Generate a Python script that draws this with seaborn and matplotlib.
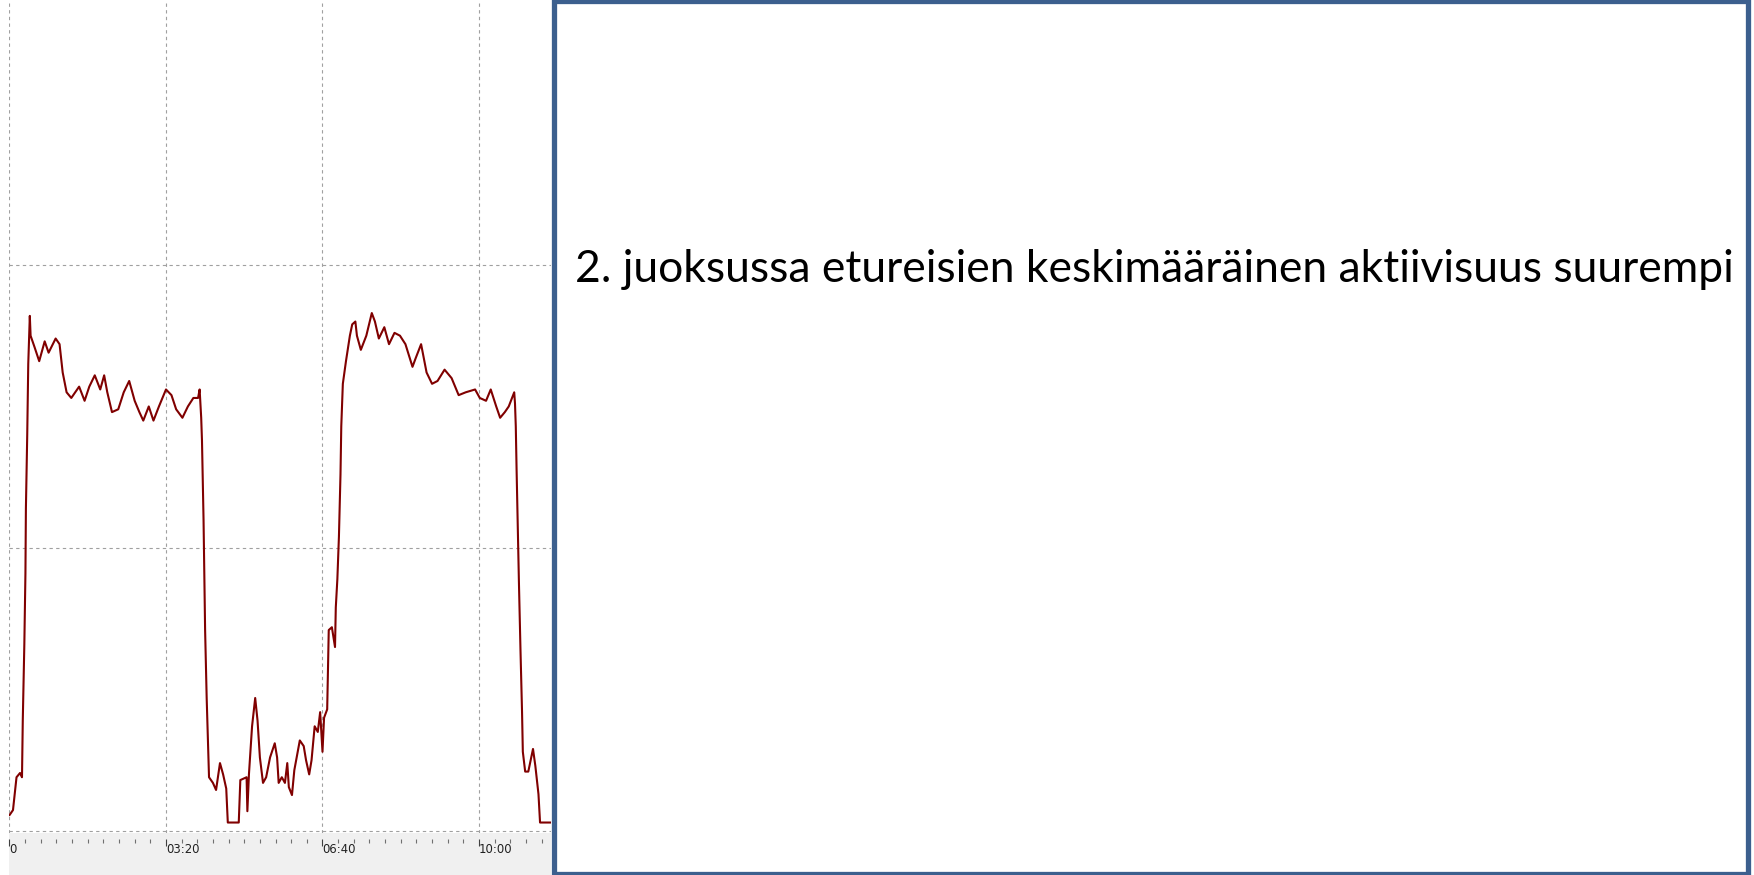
import numpy as np
import pandas as pd
import matplotlib
matplotlib.use("Agg")
import matplotlib.pyplot as plt
from matplotlib.patches import Rectangle
from matplotlib.ticker import MultipleLocator
import seaborn as sns

# Data: time in seconds, activity in arbitrary units
time_s = [0, 4.5, 9, 13.5, 16, 17, 19, 20.4, 21, 22.7, 24, 26, 27, 32, 38, 45, 50, 59, 64,
          68, 73, 79, 89, 96, 102, 109, 116, 121, 125, 131, 139, 146, 153, 160, 166, 171,
          178, 184, 191, 200, 207, 213, 221, 228, 235, 241, 243, 245, 246, 248, 249, 250,
          252, 254, 255, 260, 264, 269, 273, 277, 279, 285, 293, 295, 303, 304, 306, 310,
          314, 317, 320, 324, 328, 333, 339, 342, 344, 348, 352, 355, 357, 361, 364, 371,
          376, 379, 383, 386, 390, 394, 397, 400, 402, 406, 408, 412, 416, 417, 419, 421,
          423, 424, 426, 430, 435, 438, 442, 444, 449, 456, 463, 467, 472, 479, 485, 492,
          499, 506, 515, 519, 526, 533, 540, 547, 556, 565, 574, 583, 595, 601, 609, 615,
          622, 627, 633, 638, 645, 646, 647, 648, 651, 653, 655, 656, 659, 663, 669, 672,
          676, 678, 692]
activity = [5.6, 7.4, 19, 20.5, 19, 39, 66, 91, 114, 140, 165, 182, 175, 171, 166, 173, 169,
            174, 172, 162, 155, 153, 157, 152, 157, 161, 156, 161, 155, 148, 149, 155, 159,
            152, 148, 145, 150, 145, 150, 156, 154, 149, 146, 150, 153, 153, 156, 146, 138,
            110, 91, 71, 47, 29, 19, 17, 14.5, 24, 20, 15, 3, 3, 3, 18, 19, 7, 20, 37, 47,
            39, 26, 17, 19, 26, 31, 26, 17, 19, 17, 24, 15.5, 12.7, 21.5, 32, 30, 25, 20,
            25, 37, 35, 42, 28, 40, 43, 71, 72, 65, 79, 89, 104, 126, 143, 158, 166, 175,
            179, 180, 175, 170, 175, 183, 180, 174, 178, 172, 176, 175, 172, 164, 167, 172,
            162, 158, 159, 163, 160, 154, 155, 156, 153, 152, 156, 150, 146, 148, 150, 155,
            151, 143, 128, 88, 64, 42, 28, 21, 21, 29, 23, 13, 3, 3]
major_ticks = [0, 200, 400, 600]
major_labels = ["0", "03:20", "06:40", "10:00"]
note = "2. juoksussa etureisien keskimääräinen aktiivisuus suurempi"

df = pd.DataFrame({"t": time_s, "v": activity})

W, H = 1754, 875
sns.set_style("white")
plt.rcParams["font.family"] = ["DejaVu Sans"]
fig = plt.figure(figsize=(W / 100, H / 100), dpi=100)

# grey band under the chart
fig.patches.append(Rectangle((9 / W, 0), 542 / W, 42 / H, transform=fig.transFigure,
                             facecolor="#f0f0f0", edgecolor="none", zorder=-1))

ax = fig.add_axes([9 / W, 42 / H, 542 / W, 833 / H])
ax.set_facecolor("none")
sns.lineplot(data=df, x="t", y="v", ax=ax, color="#800000", linewidth=1.5)
ax.set_xlim(-0.6, 692)
ax.set_ylim(-0.7, 293.6)
ax.set_xlabel("")
ax.set_ylabel("")
for s in ax.spines.values():
    s.set_visible(False)

grid_kw = dict(color="#a0a0a0", linewidth=0.8, linestyle=(0, (3, 3)), zorder=0)
for x in major_ticks:
    ax.axvline(x, **grid_kw)
for y in [0, 100, 200]:
    ax.axhline(y, **grid_kw)

ax.set_yticks([])
ax.spines["bottom"].set_position(("outward", 4))
ax.set_xticks(major_ticks)
ax.set_xticklabels(major_labels, ha="left")
ax.xaxis.set_minor_locator(MultipleLocator(20))
ax.tick_params(axis="x", which="major", bottom=True, direction="out", length=5,
               width=0.8, color="#404040", pad=-2, labelsize=8.4, labelcolor="#202020")
ax.tick_params(axis="x", which="minor", bottom=True, direction="out", length=3,
               width=0.8, color="#707070")

# text box on the right
fig.patches.append(Rectangle((554 / W, 1 / H), 1193.5 / W, 873 / H, transform=fig.transFigure,
                             facecolor="white", edgecolor="#3c5f8e", linewidth=3.8, zorder=5))
txt = fig.text(575 / W, 1 - 282 / H, note, fontsize=29, family=["Lato", "DejaVu Sans"],
               color="black", ha="left", va="baseline", zorder=6)
fig.canvas.draw()
bb = txt.get_window_extent()
txt.set_fontsize(29 * 1158 / bb.width)

fig.savefig("out.png", dpi=100)
